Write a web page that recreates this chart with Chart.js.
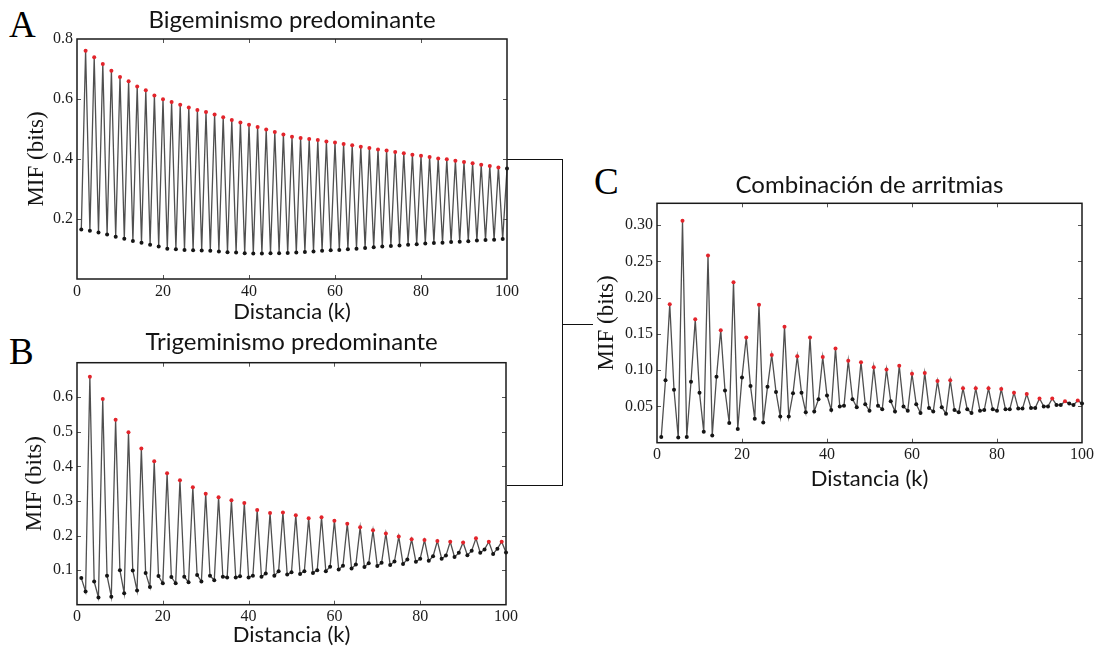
<!DOCTYPE html>
<html>
<head>
<meta charset="utf-8">
<title>MIF vs distancia</title>
<script src="https://cdn.jsdelivr.net/npm/chart.js@4.4.1/dist/chart.umd.min.js"></script>
<style>
  html, body { margin: 0; padding: 0; background: #fff; }
  #stage { position: relative; width: 1097px; height: 651px; overflow: hidden; background: #fff; }
  .panel { position: absolute; }
  .panel canvas { display: block; }
  .letter { position: absolute; font-family: "Liberation Serif", "DejaVu Serif", serif; font-size: 37px; line-height: 1; color: #000; }
  .rule { position: absolute; background: #111; }
</style>
</head>
<body>
<div id="stage">
  <div class="letter" style="left:9px; top:6px;">A</div>
  <div class="letter" style="left:9px; top:333px;">B</div>
  <div class="letter" style="left:594px; top:163px;">C</div>

  <!-- bracket joining panels A and B to panel C -->
  <div class="rule" style="left:507px; top:158.6px; width:56.4px; height:1.4px;"></div>
  <div class="rule" style="left:562px; top:158.6px; width:1.4px; height:327.4px;"></div>
  <div class="rule" style="left:507px; top:484.6px; width:56.4px; height:1.4px;"></div>
  <div class="rule" style="left:562px; top:323.6px; width:31px; height:1.4px;"></div>

  <div class="panel" style="left:0; top:0;"><canvas id="chartA" width="530" height="330"></canvas></div>
  <div class="panel" style="left:0; top:320px;"><canvas id="chartB" width="530" height="331"></canvas></div>
  <div class="panel" style="left:580px; top:160px;"><canvas id="chartC" width="517" height="340"></canvas></div>
</div>

<script>
// Distance k between beats
const kValues = Array.from({ length: 100 }, (_, i) => i + 1);

// Mutual information function (bits), bigeminy-dominated record
const mifBigeminismo = [
  0.165, 0.761, 0.161, 0.739, 0.155, 0.717, 0.148, 0.694, 0.141, 0.673,
  0.134, 0.659, 0.127, 0.642, 0.121, 0.629, 0.114, 0.612, 0.108, 0.599,
  0.101, 0.590, 0.099, 0.581, 0.097, 0.572, 0.096, 0.563, 0.095, 0.557,
  0.094, 0.548, 0.092, 0.539, 0.089, 0.530, 0.088, 0.522, 0.086, 0.514,
  0.085, 0.507, 0.085, 0.498, 0.086, 0.490, 0.086, 0.482, 0.087, 0.474,
  0.088, 0.470, 0.090, 0.467, 0.092, 0.463, 0.094, 0.458, 0.096, 0.455,
  0.097, 0.450, 0.099, 0.446, 0.101, 0.441, 0.103, 0.437, 0.106, 0.432,
  0.108, 0.428, 0.110, 0.423, 0.112, 0.419, 0.114, 0.414, 0.116, 0.411,
  0.118, 0.407, 0.120, 0.402, 0.121, 0.399, 0.123, 0.394, 0.124, 0.390,
  0.126, 0.386, 0.128, 0.381, 0.130, 0.377, 0.131, 0.372, 0.133, 0.368
];

// Mutual information function (bits), trigeminy-dominated record
const mifTrigeminismo = [
  0.077, 0.038, 0.659, 0.067, 0.021, 0.595, 0.084, 0.023, 0.535, 0.100,
  0.033, 0.499, 0.099, 0.041, 0.452, 0.092, 0.051, 0.415, 0.083, 0.062,
  0.380, 0.080, 0.062, 0.360, 0.081, 0.065, 0.340, 0.086, 0.067, 0.321,
  0.084, 0.071, 0.311, 0.081, 0.079, 0.302, 0.079, 0.082, 0.294, 0.079,
  0.084, 0.274, 0.081, 0.090, 0.265, 0.084, 0.097, 0.267, 0.087, 0.094,
  0.259, 0.089, 0.097, 0.250, 0.092, 0.100, 0.253, 0.097, 0.110, 0.243,
  0.102, 0.113, 0.234, 0.105, 0.116, 0.224, 0.109, 0.120, 0.215, 0.112,
  0.121, 0.206, 0.115, 0.125, 0.197, 0.118, 0.131, 0.189, 0.124, 0.133,
  0.187, 0.127, 0.140, 0.184, 0.133, 0.142, 0.182, 0.138, 0.150, 0.180,
  0.143, 0.156, 0.192, 0.150, 0.160, 0.182, 0.147, 0.162, 0.182, 0.151
];

// Mutual information function (bits), record with mixed arrhythmias
const mifCombinacion = [
  0.008, 0.086, 0.191, 0.073, 0.007, 0.306, 0.008, 0.084, 0.170, 0.069,
  0.015, 0.258, 0.010, 0.091, 0.155, 0.072, 0.027, 0.221, 0.019, 0.090,
  0.145, 0.078, 0.033, 0.190, 0.028, 0.077, 0.121, 0.070, 0.036, 0.160,
  0.036, 0.068, 0.119, 0.069, 0.042, 0.145, 0.043, 0.060, 0.118, 0.065,
  0.045, 0.130, 0.050, 0.051, 0.113, 0.060, 0.049, 0.111, 0.053, 0.044,
  0.104, 0.051, 0.046, 0.101, 0.057, 0.043, 0.106, 0.050, 0.044, 0.095,
  0.053, 0.041, 0.096, 0.048, 0.043, 0.085, 0.049, 0.040, 0.086, 0.045,
  0.042, 0.075, 0.046, 0.041, 0.075, 0.044, 0.045, 0.075, 0.046, 0.044,
  0.074, 0.046, 0.046, 0.069, 0.047, 0.047, 0.067, 0.048, 0.048, 0.061,
  0.050, 0.050, 0.061, 0.052, 0.052, 0.057, 0.054, 0.052, 0.058, 0.054
];

// Tick positions
const xTicks = [0, 20, 40, 60, 80, 100];
const yTicksA = [0.2, 0.4, 0.6, 0.8];
const yTicksB = [0.1, 0.2, 0.3, 0.4, 0.5, 0.6];
const yTicksC = [0.05, 0.10, 0.15, 0.20, 0.25, 0.30];

const SANS = 'Lato, "Open Sans", sans-serif';
const SERIF = '"Liberation Serif", "DejaVu Serif", serif';
const LINE_GREY = '#4f4f4f';
const DOT_BLACK = '#151515';
const PEAK_RED = '#e3242b';

// Interior local maxima are marked in red, everything else in black
function markerColours(values) {
  return values.map((v, i) =>
    (i > 0 && i < values.length - 1 && v > values[i - 1] && v > values[i + 1]) ? PEAK_RED : DOT_BLACK);
}

// Box frame with short inward tick marks on all four sides
const frameAndTicks = {
  id: 'frameAndTicks',
  afterDatasetsDraw(chart) {
    const { ctx, chartArea: a, scales: { x, y } } = chart;
    const len = 4;
    ctx.save();
    ctx.strokeStyle = '#555';
    ctx.lineWidth = 1;
    ctx.beginPath();
    x.ticks.forEach(t => {
      if (t.value <= x.min || t.value >= x.max) return;
      const px = Math.round(x.getPixelForValue(t.value)) + 0.5;
      ctx.moveTo(px, a.bottom); ctx.lineTo(px, a.bottom - len);
      ctx.moveTo(px, a.top); ctx.lineTo(px, a.top + len);
    });
    y.ticks.forEach(t => {
      if (t.value <= y.min || t.value >= y.max) return;
      const py = Math.round(y.getPixelForValue(t.value)) + 0.5;
      ctx.moveTo(a.left, py); ctx.lineTo(a.left + len, py);
      ctx.moveTo(a.right, py); ctx.lineTo(a.right - len, py);
    });
    ctx.stroke();
    ctx.strokeStyle = '#1a1a1a';
    ctx.lineWidth = 1.5;
    ctx.strokeRect(a.left, a.top, a.right - a.left, a.bottom - a.top);
    ctx.restore();
  }
};

function makePanel(canvasId, cfg) {
  const points = kValues.map((k, i) => ({ x: k, y: cfg.values[i] }));
  const colours = markerColours(cfg.values);
  return new Chart(document.getElementById(canvasId), {
    type: 'line',
    data: {
      datasets: [{
        data: points,
        borderColor: LINE_GREY,
        borderWidth: 1.3,
        tension: 0,
        pointRadius: 2,
        pointBorderWidth: 0,
        pointBackgroundColor: colours,
        pointBorderColor: colours,
        clip: 4
      }]
    },
    options: {
      responsive: false,
      animation: false,
      events: [],
      layout: { padding: { left: 0, right: cfg.padRight, top: 0, bottom: 0 } },
      plugins: {
        legend: { display: false },
        tooltip: { enabled: false },
        title: {
          display: true,
          fullSize: false,
          text: cfg.title,
          color: '#141414',
          font: { family: SANS, size: 24, weight: 'normal' },
          padding: { top: cfg.titlePad[0], bottom: cfg.titlePad[1] }
        }
      },
      scales: {
        x: {
          type: 'linear',
          min: 0,
          max: 100,
          grid: { display: false, drawTicks: false },
          border: { display: false },
          afterBuildTicks: s => { s.ticks = xTicks.map(v => ({ value: v })); },
          ticks: {
            padding: 2.7,
            maxRotation: 0,
            autoSkip: false,
            color: '#1c1c1c',
            font: { family: SERIF, size: 16 },
            callback: v => String(v)
          },
          title: {
            display: true,
            text: 'Distancia (k)',
            color: '#141414',
            font: { family: SANS, size: 22 },
            padding: { top: 0, bottom: cfg.xTitlePad }
          },
          afterFit: s => { s.height = cfg.xHeight; }
        },
        y: {
          type: 'linear',
          min: 0,
          max: cfg.yMax,
          grid: { display: false, drawTicks: false },
          border: { display: false },
          afterBuildTicks: s => { s.ticks = cfg.yTicks.map(v => ({ value: v })); },
          ticks: {
            padding: 4,
            autoSkip: false,
            color: '#1c1c1c',
            font: { family: SERIF, size: 16 },
            callback: v => v.toFixed(cfg.decimals)
          },
          title: {
            display: true,
            text: 'MIF (bits)',
            color: '#141414',
            font: { family: SERIF, size: 23 },
            padding: { top: cfg.yTitlePad, bottom: 0 }
          },
          afterFit: s => { s.width = 77; }
        }
      }
    },
    plugins: [frameAndTicks]
  });
}

makePanel('chartA', {
  values: mifBigeminismo,
  title: 'Bigeminismo predominante',
  yMax: 0.8, yTicks: yTicksA, decimals: 1,
  padRight: 23, titlePad: [5.6, 4.6], xHeight: 51, xTitlePad: 5.3, yTitlePad: 22.8
});

makePanel('chartB', {
  values: mifTrigeminismo,
  title: 'Trigeminismo predominante',
  yMax: 0.7, yTicks: yTicksB, decimals: 1,
  padRight: 24, titlePad: [7.8, 6.1], xHeight: 46.3, xTitlePad: 3, yTitlePad: 21.4
});

makePanel('chartC', {
  values: mifCombinacion,
  title: 'Combinación de arritmias',
  yMax: 0.33, yTicks: yTicksC, decimals: 2,
  padRight: 15, titlePad: [11.3, 3.2], xHeight: 57.3, xTitlePad: 8, yTitlePad: 13.4
});
</script>
</body>
</html>
